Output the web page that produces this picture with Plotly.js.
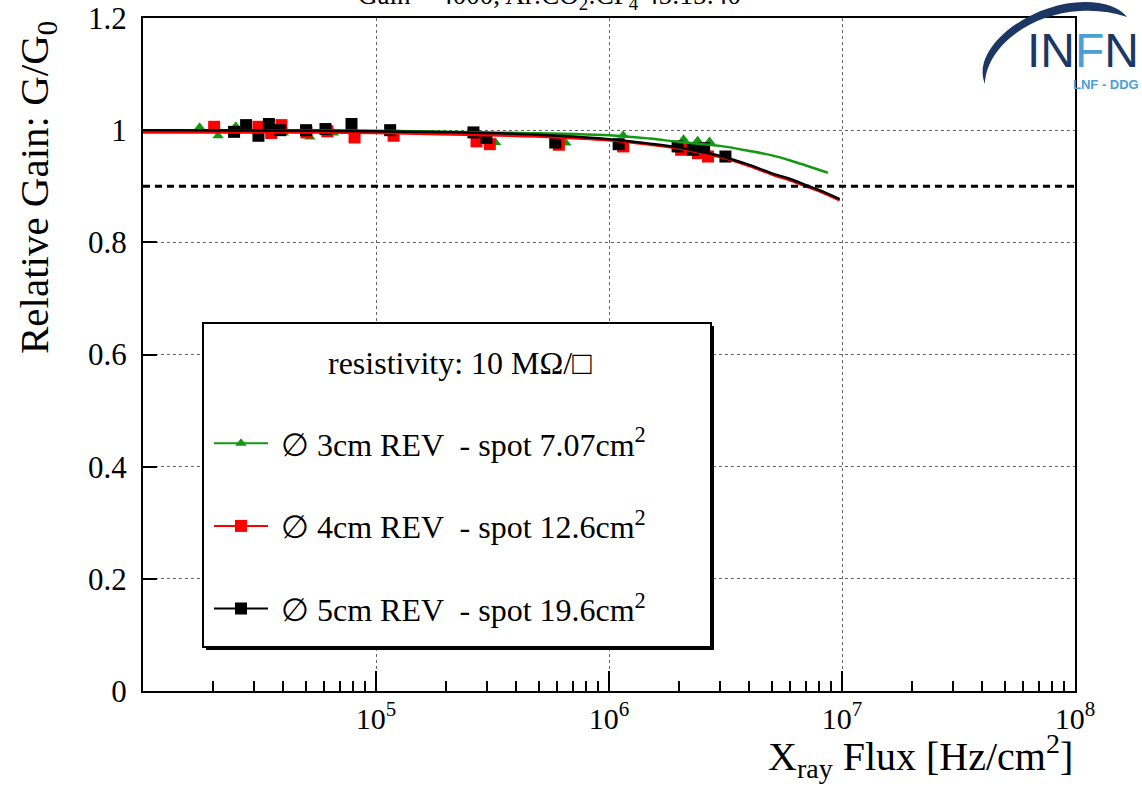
<!DOCTYPE html>
<html>
<head>
<meta charset="utf-8">
<script src="https://cdn.plot.ly/plotly-3.0.1.min.js"></script>
<style>html,body{margin:0;padding:0;background:#fff;}#chart{width:1142px;height:789px;}</style>
</head>
<body>
<div id="chart"></div>
<script>
// ---------- data ----------
const greenX = [17500, 21000, 25000, 40000, 52000, 65600, 326000, 653000, 1150000, 2090000, 2400000, 2700000];
const greenY = [1.005, 0.990, 1.007, 0.995, 0.988, 0.995, 0.978, 0.977, 0.991, 0.984, 0.981, 0.980];

const redX = [20200, 31300, 35500, 39300, 50300, 61800, 80900, 119000, 270000, 308000, 609000, 1150000, 2040000, 2410000, 2660000];
const redY = [1.006, 1.006, 0.995, 1.009, 0.996, 0.998, 0.987, 0.990, 0.980, 0.975, 0.974, 0.971, 0.965, 0.959, 0.953];

const blackX = [24600, 27700, 31300, 34700, 38800, 50100, 60700, 78500, 115000, 262000, 298000, 588000, 1100000, 1970000, 2290000, 2560000, 3160000];
const blackY = [0.997, 1.009, 0.990, 1.011, 1.000, 1.000, 1.002, 1.011, 1.000, 0.996, 0.986, 0.978, 0.975, 0.971, 0.965, 0.968, 0.953];

// fit curves
const greenFitX = [10000, 30000, 100000, 300000, 1000000, 1500000, 2000000, 3000000, 4000000, 5000000, 6000000, 7000000, 8700000];
const greenFitY = [1.000, 1.000, 0.999, 0.996, 0.991, 0.985, 0.979, 0.972, 0.963, 0.955, 0.946, 0.937, 0.924];
const redFitX = [10000, 30000, 100000, 300000, 600000, 1000000, 1500000, 2000000, 2500000, 3000000, 4000000, 5000000, 6000000, 7000000, 8000000, 9770000];
const redFitY = [0.996, 0.996, 0.995, 0.991, 0.987, 0.982, 0.974, 0.967, 0.959, 0.952, 0.936, 0.921, 0.910, 0.900, 0.891, 0.875];
const blackFitX = [10000, 30000, 100000, 300000, 600000, 1000000, 1500000, 2000000, 2500000, 3000000, 4000000, 5000000, 6000000, 7000000, 8000000, 9770000];
const blackFitY = [1.000, 0.9995, 0.998, 0.995, 0.990, 0.984, 0.976, 0.969, 0.961, 0.954, 0.938, 0.923, 0.913, 0.902, 0.893, 0.877];

const threshold = 0.9;

const seriesNames = [
  "\u00A0\u2205 3cm REV \u00A0- spot 7.07cm<sup>2</sup>",
  "\u00A0\u2205 4cm REV \u00A0- spot 12.6cm<sup>2</sup>",
  "\u00A0\u2205 5cm REV \u00A0- spot 19.6cm<sup>2</sup>"
];
const seriesColors = ["#109a10", "#ff0000", "#000000"];
const seriesSymbols = ["triangle-up", "square", "square"];

const xTickVals = [1e5, 1e6, 1e7, 1e8];
const xTickText = ["10<sup>5</sup>", "10<sup>6</sup>", "10<sup>7</sup>", "10<sup>8</sup>"];
const yTickVals = [0, 0.2, 0.4, 0.6, 0.8, 1, 1.2];

const titleText = "Gain = 4000, Ar:CO<sub>2</sub>:CF<sub>4</sub> 45:15:40";
const xTitle = "X<sub>ray</sub> Flux [Hz/cm<sup>2</sup>]";
const yTitle = "Relative Gain: G/G<sub>0</sub>";
const legendHeader = "resistivity: 10 M\u03A9/\u25A1";

// ---------- layout helpers ----------
const L = 143, T = 18, W = 932, H = 673;
function px(x) { return (x - L) / W; }
function py(y) { return (691 - y) / H; }
function P(x, y) { return px(x).toFixed(4) + "," + py(y).toFixed(4); }

const minorVals = [];
for (let e = 4; e < 8; e++) for (let m = 2; m <= 9; m++) minorVals.push(m * Math.pow(10, e));

const serif = "Liberation Serif, Times New Roman, serif";

const traces = [];
const ptsX = [greenX, redX, blackX], ptsY = [greenY, redY, blackY];
const fitX = [greenFitX, redFitX, blackFitX], fitY = [greenFitY, redFitY, blackFitY];
const msize = [10, 12, 12];
for (let i = 0; i < 3; i++) {
  traces.push({
    x: ptsX[i], y: ptsY[i], type: "scatter", mode: "markers", showlegend: false,
    marker: {symbol: seriesSymbols[i], color: seriesColors[i], size: msize[i]}, hoverinfo: "x+y"
  });
}
for (let i = 0; i < 3; i++) {
  traces.push({
    x: fitX[i], y: fitY[i], type: "scatter", mode: "lines", showlegend: false,
    line: {color: seriesColors[i], width: 2.5, shape: "spline"}, hoverinfo: "skip"
  });
}
for (let i = 0; i < 3; i++) {
  traces.push({
    x: [null], y: [null], type: "scatter", mode: "lines+markers", name: seriesNames[i],
    legendgroup: "g" + i, showlegend: true,
    line: {color: seriesColors[i], width: 2},
    marker: {symbol: seriesSymbols[i], color: seriesColors[i], size: msize[i]}
  });
}

// logo swoosh (decorative)
const swoosh = "M " + P(985, 84) + " C " + P(970, 48) + " " + P(1030, 2) + " " + P(1085, 2) +
  " C " + P(1105, 2) + " " + P(1120, 8) + " " + P(1127, 17) +
  " C " + P(1112, 12) + " " + P(1097, 10) + " " + P(1080, 11) +
  " C " + P(1028, 14) + " " + P(986, 48) + " " + P(985, 84) + " Z";

const layout = {
  width: 1142, height: 789,
  margin: {l: L, r: 1142 - L - W, t: T, b: 789 - T - H, pad: 0},
  paper_bgcolor: "#ffffff", plot_bgcolor: "#ffffff",
  font: {family: serif, size: 30, color: "#000"},
  xaxis: {
    type: "log", range: [4, 8], tickmode: "array", tickvals: xTickVals, ticktext: xTickText,
    ticks: "inside", ticklen: 20, tickwidth: 2, tickcolor: "#000",
    showline: true, mirror: true, linecolor: "#000", linewidth: 2,
    showgrid: true, gridcolor: "#666", griddash: "dot", gridwidth: 1,
    zeroline: false, tickfont: {family: serif, size: 30}, ticklabelstandoff: 0,
    minor: {tickmode: "array", tickvals: minorVals, ticks: "inside", ticklen: 10, tickwidth: 2, tickcolor: "#000", showgrid: false}
  },
  yaxis: {
    range: [0, 1.2], tickmode: "array", tickvals: yTickVals,
    ticks: "inside", ticklen: 14, tickwidth: 2, tickcolor: "#000",
    showline: true, mirror: true, linecolor: "#000", linewidth: 2,
    showgrid: true, gridcolor: "#666", griddash: "dot", gridwidth: 1,
    zeroline: false, tickfont: {family: serif, size: 31}, ticklabelstandoff: 8
  },
  showlegend: true,
  legend: {
    x: px(209), y: py(416), xanchor: "left", yanchor: "top",
    bgcolor: "rgba(0,0,0,0)", borderwidth: 0,
    font: {family: serif, size: 32, color: "#000"},
    itemwidth: 54, tracegroupgap: 38, traceorder: "grouped", itemclick: false
  },
  shapes: [
    {type: "line", xref: "paper", yref: "y", x0: 0, x1: 1, y0: threshold, y1: threshold,
     line: {color: "#000", width: 3, dash: "7px,5px"}, layer: "above"},
    {type: "rect", xref: "paper", yref: "paper", x0: px(206), x1: px(714), y0: py(650), y1: py(326),
     fillcolor: "#000", line: {width: 0}, layer: "above"},
    {type: "rect", xref: "paper", yref: "paper", x0: px(203), x1: px(711), y0: py(647), y1: py(323),
     fillcolor: "#fff", line: {color: "#000", width: 2}, layer: "above"},
    {type: "path", xref: "paper", yref: "paper", path: swoosh, fillcolor: "#1c3763", line: {width: 0}, layer: "above"}
  ],
  annotations: [
    {text: titleText, xref: "paper", yref: "paper", x: px(549), y: py(-3), xanchor: "center", yanchor: "middle",
     showarrow: false, font: {family: serif, size: 27}},
    {text: xTitle, xref: "paper", yref: "paper", x: 1, y: py(756), xanchor: "right", yanchor: "middle",
     showarrow: false, font: {family: serif, size: 40}},
    {text: yTitle, xref: "paper", yref: "paper", x: px(37), y: py(188), xanchor: "center", yanchor: "middle",
     textangle: -90, showarrow: false, font: {family: serif, size: 41}},
    {text: legendHeader, xref: "paper", yref: "paper", x: px(460), y: py(363), xanchor: "center", yanchor: "middle",
     showarrow: false, font: {family: serif, size: 32}},
    {text: "<span style='color:#1c3763'>IN</span><span style='color:#4a9fd8'>F</span><span style='color:#1c3763'>N</span>",
     xref: "paper", yref: "paper", x: px(1141), y: py(50), xanchor: "right", yanchor: "middle",
     showarrow: false, font: {family: "Liberation Sans Narrow, Liberation Sans, sans-serif", size: 48}},
    {text: "<b>LNF - DDG</b>", xref: "paper", yref: "paper", x: px(1141), y: py(85), xanchor: "right", yanchor: "middle",
     showarrow: false, font: {family: "Liberation Sans Narrow, Liberation Sans, sans-serif", size: 13, color: "#4a9fd8"}}
  ]
};

Plotly.newPlot("chart", traces, layout, {displayModeBar: false, staticPlot: true});
</script>
</body>
</html>
